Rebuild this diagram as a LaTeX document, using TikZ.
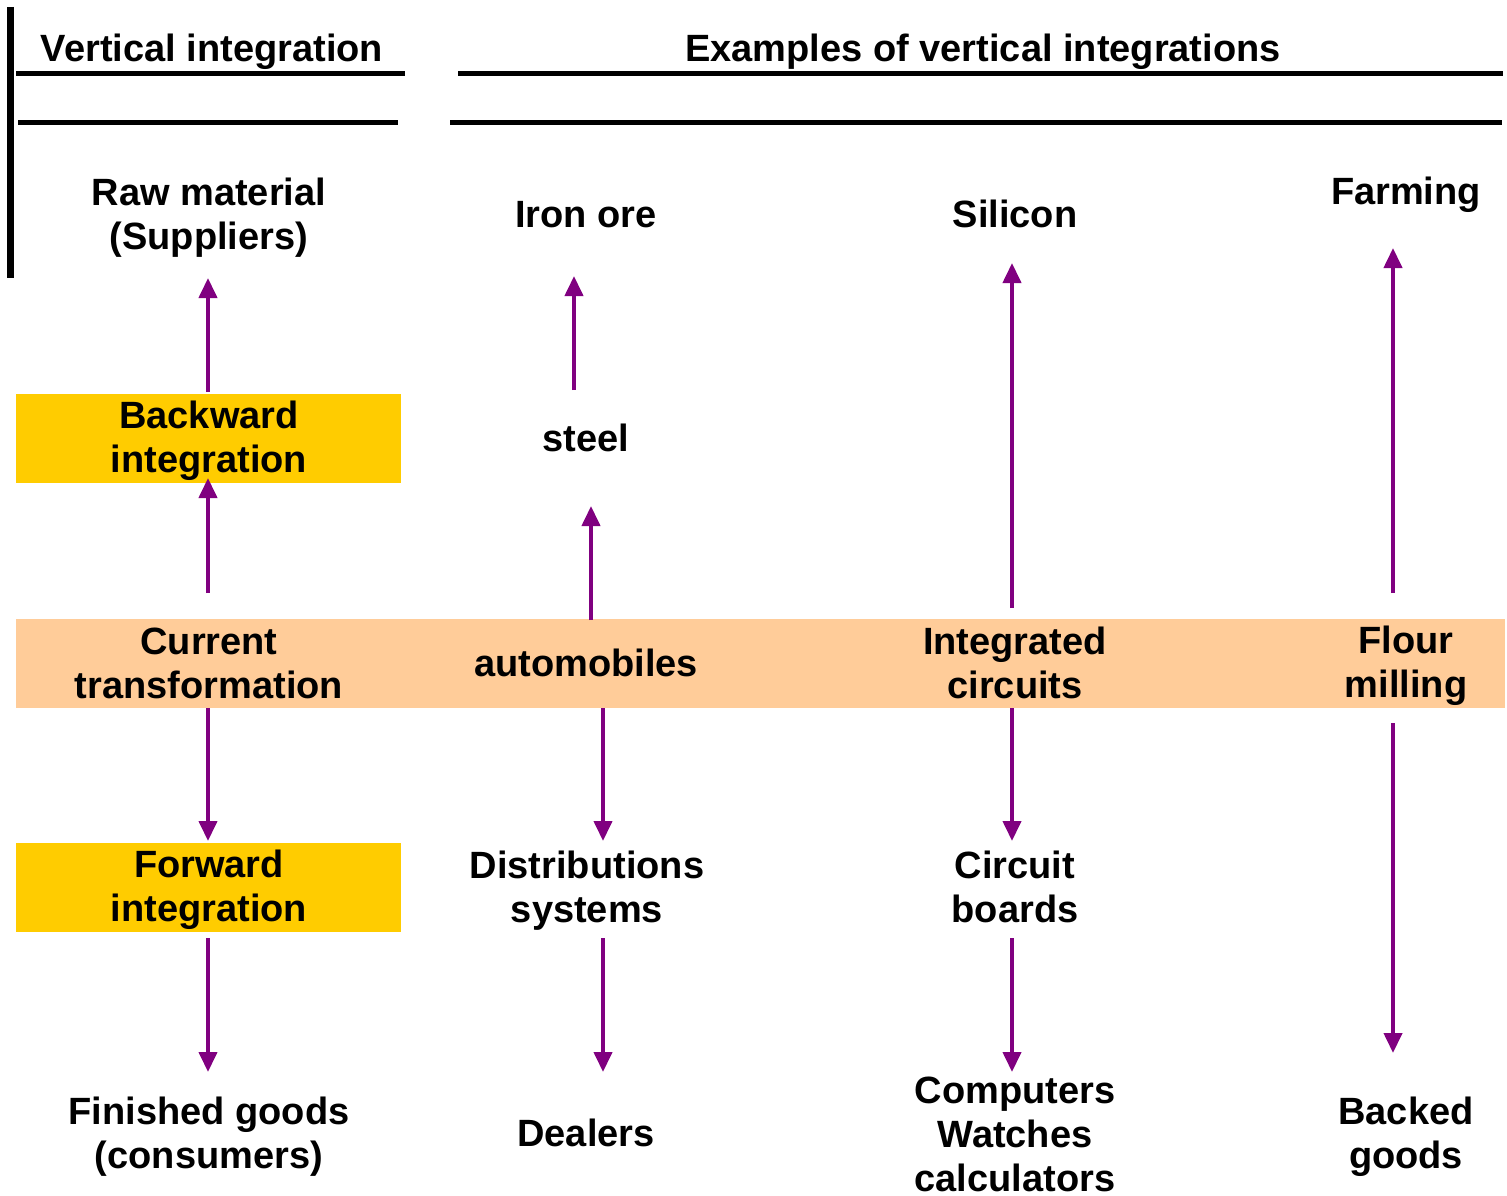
\documentclass[tikz,border=0pt]{standalone}
\usepackage{fontspec}
\setmainfont{Liberation Sans}
\usepackage{tikz}
\usetikzlibrary{arrows.meta,positioning,calc}
\definecolor{flowpurple}{HTML}{800080}
\definecolor{stepgold}{HTML}{FFCC00}
\definecolor{bandpeach}{HTML}{FFCC99}
\tikzstyle{label}=[inner sep=0pt,align=center,font=\bfseries\fontsize{38}{44}\selectfont]
\tikzstyle{stepbox}=[inner sep=0pt,fill=stepgold,minimum width=385pt,minimum height=89pt]
\tikzstyle{flow}=[flowpurple,line width=4pt,-{Triangle[width=18pt,length=20pt]}]
\tikzstyle{rule}=[line width=5pt]

\begin{document}
\begin{tikzpicture}[x=1pt,y=-1pt]
\useasboundingbox (0,0) rectangle (1507,1196);
% header rules
\draw[line width=7pt] (10,7) -- (10,278);
\draw[rule] (16,74) -- (405,74);
\draw[rule] (18,123) -- (398,123);
\draw[rule] (458,74) -- (1503,74);
\draw[rule] (450,123) -- (1502,123);
\node [label] (hdl) at (212,52) {Vertical integration};
\node [label] (hdr) at (983,52) {Examples of vertical integrations};
% band and boxes
\node [fill=bandpeach,minimum width=1489pt,minimum height=89pt,inner sep=0pt] (band) at (760.5,663.5) {};
\node [stepbox] (bwdbox) at (208.5,438.5) {};
\node [stepbox] (fwdbox) at (208.5,887.5) {};
% column 1
\node [label] (raw) at (209,218) {Raw material\\(Suppliers)};
\node [label] (bwd) at (209,441) {Backward\\integration};
\node [label] (cur) at (209,663) {Current\\transformation};
\node [label] (fwd) at (209,890) {Forward\\integration};
\node [label] (fin) at (209,1137) {Finished goods\\(consumers)};
% column 2
\node [label] (iron) at (586,215) {Iron ore};
\node [label] (steel) at (586,438) {steel};
\node [label] (auto) at (586,663) {automobiles};
\node [label] (dist) at (587,891) {Distributions\\systems};
\node [label] (deal) at (586,1133) {Dealers};
% column 3
\node [label] (sil) at (1015,214) {Silicon};
\node [label] (ic) at (1015,663) {Integrated\\circuits};
\node [label] (board) at (1015,887) {Circuit\\boards};
\node [label] (comp) at (1015,1134) {Computers\\Watches\\calculators};
% column 4
\node [label] (farm) at (1406,195) {Farming};
\node [label] (flour) at (1406,666) {Flour\\milling};
\node [label] (baked) at (1406,1137) {Backed\\goods};
% arrows
\foreach \n/\x/\ya/\yb in {1/208/392/278, 2/208/593/478, 3/208/708/841, 4/208/938/1072,
    5/574/390/276, 6/591/620/506, 7/603/708/841, 8/603/938/1072,
    9/1012/608/263, 10/1012/708/841, 11/1012/938/1072,
    12/1393/593/248, 13/1393/723/1053}
  {
  \coordinate (s\n) at (\x,\ya);
  \coordinate (e\n) at (\x,\yb);
  \draw[flow] (s\n) -- (e\n);
  }
\end{tikzpicture}
\end{document}
